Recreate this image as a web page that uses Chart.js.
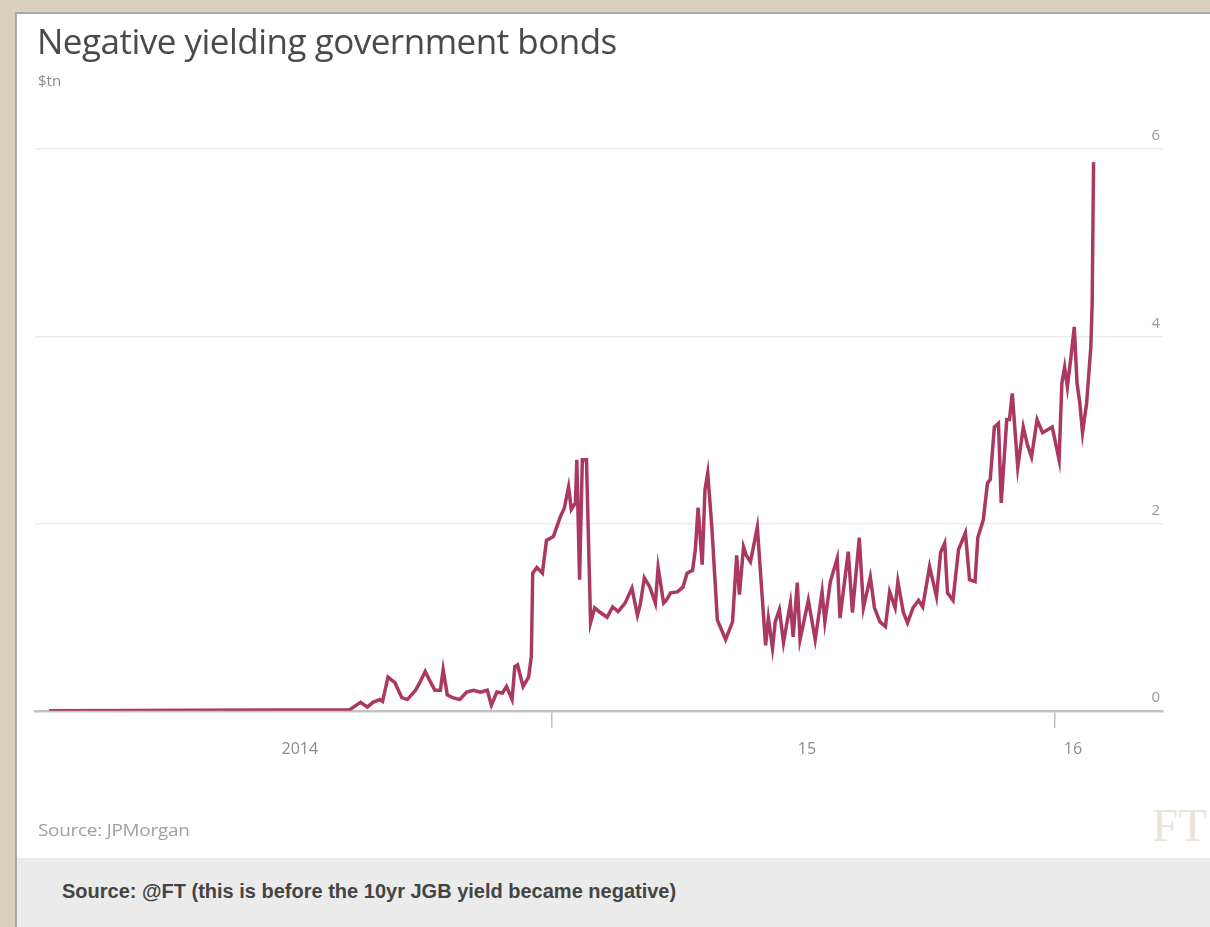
<!DOCTYPE html>
<html>
<head>
<meta charset="utf-8">
<script src="https://cdn.jsdelivr.net/npm/chart.js@4/dist/chart.umd.min.js"></script>
<style>
  html, body { margin: 0; padding: 0; }
  body { width: 1210px; height: 927px; background: #d9d0bd; position: relative; overflow: hidden; }
  #panel { position: absolute; left: 15px; top: 12px; width: 1200px; height: 915px; background: #fff; border: 2px solid #a9a9a9; box-sizing: border-box; }
  #chartBox { position: absolute; left: 0; top: 0; width: 1210px; height: 858px; }
  .txt { position: absolute; white-space: nowrap; }
  #title { left: 37px; top: 17px; font: 400 35px "Open Sans", sans-serif; color: #4a4a4a; letter-spacing: -0.5px; }
  #unit { left: 38px; top: 70px; font: 400 15px "Open Sans", sans-serif; color: #8a8a8a; }
  #source { left: 38px; top: 819px; font: 400 16px "Open Sans", sans-serif; color: #a0a0a0; letter-spacing: -0.2px; transform: scaleX(1.18); transform-origin: left; }
  #logo { left: 1152px; top: 798px; font: 400 47px "Liberation Serif", serif; color: #e9e3d9; }
  #caption { position: absolute; left: 17px; top: 858px; width: 1200px; height: 69px; background: #ebebeb; }
  #capText { left: 62px; top: 880px; font: 700 20px "Liberation Sans", Arial, sans-serif; color: #444; letter-spacing: 0px; }
</style>
</head>
<body>
<div id="panel"></div>
<div id="caption"></div>
<div id="chartBox"><canvas id="chart"></canvas></div>
<div class="txt" id="title">Negative yielding government bonds</div>
<div class="txt" id="unit">$tn</div>
<div class="txt" id="source">Source: JPMorgan</div>
<div class="txt" id="logo">FT</div>
<div class="txt" id="capText">Source: @FT (this is before the 10yr JGB yield became negative)</div>
<script>
// days since 1 Jan 2014
const days = [0, 218, 226, 231, 235, 240, 242, 246, 251, 256, 260, 266, 269, 273, 276, 280, 284, 286, 289, 293,
  298, 303, 308, 313, 318, 321, 325, 329, 332, 336, 338, 340, 344, 348, 350, 351, 354, 358, 361, 366,
  371, 374, 377, 379, 382, 383, 385, 387, 390, 393, 396, 400, 405, 409, 413, 418, 423, 427, 429, 432,
  436, 440, 442, 446, 448, 451, 456, 460, 463, 467, 469, 471, 474, 476, 478, 481, 485, 491, 496, 499,
  501, 504, 506, 509, 514, 520, 522, 525, 527, 530, 533, 538, 540, 543, 545, 547, 551, 556, 561, 563,
  567, 572, 574, 580, 583, 588, 591, 596, 599, 603, 607, 610, 614, 616, 620, 623, 627, 631, 634, 639,
  644, 647, 650, 652, 656, 660, 665, 668, 672, 674, 678, 681, 683, 686, 689, 691, 695, 697, 699, 703,
  707, 710, 713, 717, 721, 728, 733, 735, 737, 739, 742, 744, 746, 748, 750, 753, 756, 757, 758];
// negative yielding government bonds, $tn
const bonds = [0, 0.01, 0.09, 0.04, 0.09, 0.12, 0.10, 0.36, 0.30, 0.14, 0.12, 0.22, 0.30, 0.42, 0.33, 0.22, 0.22, 0.44, 0.17, 0.14,
  0.12, 0.20, 0.22, 0.20, 0.22, 0.06, 0.20, 0.19, 0.26, 0.12, 0.47, 0.49, 0.26, 0.36, 0.58, 1.47, 1.53, 1.47, 1.82, 1.86,
  2.07, 2.17, 2.39, 2.15, 2.22, 2.68, 1.40, 2.68, 2.68, 0.94, 1.10, 1.05, 1.00, 1.11, 1.06, 1.15, 1.31, 1.02, 1.13, 1.42,
  1.32, 1.15, 1.53, 1.15, 1.18, 1.26, 1.27, 1.32, 1.47, 1.50, 1.72, 2.17, 1.56, 2.36, 2.54, 1.96, 0.97, 0.76, 0.95, 1.66,
  1.24, 1.75, 1.66, 1.59, 1.96, 0.70, 0.99, 0.67, 0.95, 1.08, 0.73, 1.15, 0.79, 1.37, 0.76, 0.90, 1.18, 0.76, 1.27, 0.95,
  1.38, 1.63, 0.99, 1.70, 1.05, 1.85, 1.10, 1.43, 1.10, 0.95, 0.90, 1.27, 1.10, 1.38, 1.05, 0.94, 1.10, 1.18, 1.11, 1.54,
  1.22, 1.69, 1.79, 1.26, 1.18, 1.72, 1.90, 1.40, 1.38, 1.85, 2.04, 2.43, 2.47, 3.03, 3.07, 2.22, 3.11, 3.11, 3.39, 2.60,
  3.03, 2.84, 2.71, 3.11, 2.97, 3.03, 2.68, 3.50, 3.67, 3.46, 3.83, 4.10, 3.50, 3.29, 2.97, 3.29, 3.88, 4.35, 5.86];

// x-axis labels sit mid-period, tick marks at year boundaries
const tickLabels = ['2014', '15', '16'];
const labelDays = [182, 550, 743];
const yearStarts = [365, 730];
const yTicks = [0, 2, 4, 6];

const points = days.map((d, i) => ({ x: d, y: bonds[i] }));

new Chart(document.getElementById('chart'), {
  type: 'line',
  data: {
    datasets: [{
      data: points,
      borderColor: '#ab3862',
      borderWidth: 3.5,
      pointRadius: 0,
      tension: 0,
      fill: false
    }]
  },
  options: {
    responsive: true,
    maintainAspectRatio: false,
    animation: false,
    layout: { padding: { left: 35, right: 47, top: 149, bottom: 87 } },
    plugins: { legend: { display: false }, tooltip: { enabled: false } },
    scales: {
      x: {
        type: 'linear',
        min: -10.2,
        max: 808.4,
        afterBuildTicks: (scale) => {
          const t = labelDays.concat(yearStarts).sort((a, b) => a - b);
          scale.ticks = t.map(v => ({ value: v }));
        },
        ticks: {
          autoSkip: false,
          maxRotation: 0,
          padding: 12,
          color: '#8c8c8c',
          font: { family: 'Open Sans', size: 16 },
          callback: (v) => {
            const i = labelDays.indexOf(v);
            return i >= 0 ? tickLabels[i] : '';
          }
        },
        grid: {
          drawOnChartArea: false,
          tickLength: 17,
          lineWidth: 1.5,
          tickColor: (ctx) => yearStarts.includes(ctx.tick && ctx.tick.value) ? '#bdbdbd' : 'rgba(0,0,0,0)'
        },
        border: { color: '#c2c2c2', width: 2.5 }
      },
      y: {
        position: 'right',
        min: 0,
        max: 6,
        afterBuildTicks: (scale) => { scale.ticks = yTicks.map(v => ({ value: v })); },
        ticks: {
          mirror: true,
          padding: -3,
          labelOffset: -13,
          color: '#999',
          font: { family: 'Open Sans', size: 15 }
        },
        grid: { drawTicks: false, color: '#ebebeb', lineWidth: 1.5 },
        border: { display: false }
      }
    }
  }
});
</script>
</body>
</html>
